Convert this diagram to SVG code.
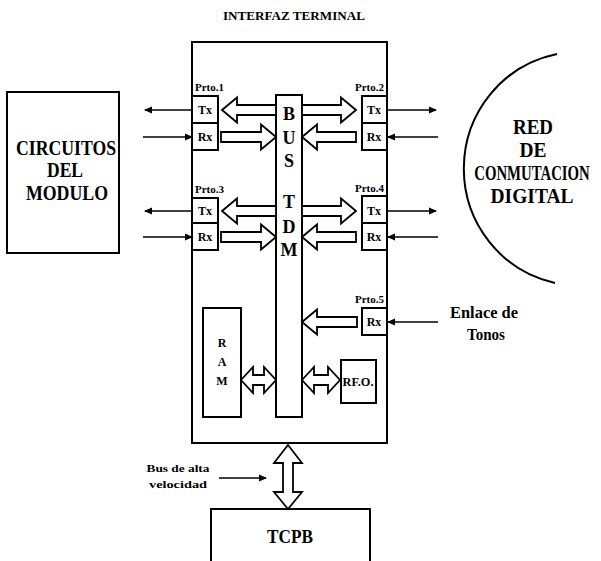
<svg xmlns="http://www.w3.org/2000/svg" width="601" height="561" viewBox="0 0 601 561">
<style>
.box{fill:#fff;stroke:#000;stroke-width:2}
.ha{fill:#fff;stroke:#000;stroke-width:1.8;stroke-linejoin:miter}
.ln{fill:none;stroke:#000;stroke-width:1.6}
.arc{fill:none;stroke:#000;stroke-width:2}
text{font-family:"Liberation Serif","Times New Roman",serif;font-weight:bold;fill:#000}
.big{font-size:20px;text-anchor:middle}
.mid{font-size:17px;text-anchor:middle}
.prt{font-size:11px}
.txr{font-size:12px;text-anchor:middle}
.bus{font-size:18px;text-anchor:middle}
.sm{font-size:12px;text-anchor:middle}
</style>
<defs>
<marker id="ah" viewBox="0 0 8 8" refX="7" refY="4" markerWidth="8" markerHeight="8" markerUnits="userSpaceOnUse" orient="auto">
<path d="M0,0.5 L8,4 L0,7.5 Z" fill="#000"/>
</marker>
</defs>

<text x="294" y="20" style="font-size:12px;text-anchor:middle" textLength="142" lengthAdjust="spacingAndGlyphs">INTERFAZ TERMINAL</text>

<g id="circuitos">
<rect class="box" x="7" y="92" width="112" height="161"/>
<text class="big" x="66" y="155" textLength="100" lengthAdjust="spacingAndGlyphs">CIRCUITOS</text>
<text class="big" x="65" y="177" textLength="36" lengthAdjust="spacingAndGlyphs">DEL</text>
<text class="big" x="67" y="200" textLength="82" lengthAdjust="spacingAndGlyphs">MODULO</text>
</g>

<g id="interfaz">
<rect class="box" x="192" y="42" width="195" height="401"/>
</g>

<g id="bus-tdm">
<rect class="box" x="276" y="95" width="26" height="322"/>
<text class="bus" x="289" y="120">B</text>
<text class="bus" x="289" y="144">U</text>
<text class="bus" x="289" y="167">S</text>
<text class="bus" x="289" y="208">T</text>
<text class="bus" x="289" y="233">D</text>
<text class="bus" x="289" y="256">M</text>
</g>

<g id="prto1">
<text class="prt" x="195" y="91">Prto.1</text>
<rect class="box" x="192" y="96" width="26" height="27"/>
<rect class="box" x="192" y="123" width="26" height="27"/>
<text class="txr" x="205" y="114">Tx</text>
<text class="txr" x="205" y="141">Rx</text>
</g>

<g id="prto3">
<text class="prt" x="195" y="193">Prto.3</text>
<rect class="box" x="192" y="198" width="26" height="25"/>
<rect class="box" x="192" y="223" width="26" height="27"/>
<text class="txr" x="205" y="215">Tx</text>
<text class="txr" x="205" y="241">Rx</text>
</g>

<g id="prto2">
<text class="prt" x="355" y="91">Prto.2</text>
<rect class="box" x="362" y="96" width="25" height="27"/>
<rect class="box" x="362" y="123" width="25" height="27"/>
<text class="txr" x="374" y="114">Tx</text>
<text class="txr" x="374" y="141">Rx</text>
</g>

<g id="prto4">
<text class="prt" x="355" y="192">Prto.4</text>
<rect class="box" x="362" y="196" width="25" height="27"/>
<rect class="box" x="362" y="223" width="25" height="27"/>
<text class="txr" x="374" y="215">Tx</text>
<text class="txr" x="374" y="241">Rx</text>
</g>

<g id="prto5">
<text class="prt" x="355" y="303">Prto.5</text>
<rect class="box" x="362" y="308" width="25" height="27"/>
<text class="txr" x="374" y="326">Rx</text>
</g>

<g id="ram">
<rect class="box" x="203" y="308" width="38" height="109"/>
<text class="sm" x="222" y="347">R</text>
<text class="sm" x="222" y="366">A</text>
<text class="sm" x="222" y="385">M</text>
</g>

<g id="rfo">
<rect class="box" x="341" y="360" width="35" height="43"/>
<text class="sm" x="358" y="386" textLength="31" lengthAdjust="spacingAndGlyphs">RF.O.</text>
</g>

<g id="red">
<path class="arc" d="M557,54 A116,117 0 0 0 555,283"/>
<text class="big" x="533" y="134" textLength="40" lengthAdjust="spacingAndGlyphs">RED</text>
<text class="big" x="533" y="157" textLength="27" lengthAdjust="spacingAndGlyphs">DE</text>
<text class="big" transform="translate(532,180) scale(0.74,1)" x="0" y="0">CONMUTACION</text>
<text class="big" x="532" y="203" textLength="83" lengthAdjust="spacingAndGlyphs">DIGITAL</text>
</g>

<g id="enlace">
<text class="mid" x="484" y="318" textLength="68" lengthAdjust="spacingAndGlyphs">Enlace de</text>
<text class="mid" x="486" y="340" textLength="38" lengthAdjust="spacingAndGlyphs">Tonos</text>
</g>

<g id="bus-alta">
<text class="sm" x="178" y="472" style="font-size:11px" textLength="63" lengthAdjust="spacingAndGlyphs">Bus de alta</text>
<text class="sm" x="178" y="488" style="font-size:11px" textLength="58" lengthAdjust="spacingAndGlyphs">velocidad</text>
</g>

<g id="tcpb">
<rect class="box" x="211" y="509" width="159" height="70"/>
<text class="big" x="290" y="543" style="font-size:19px" textLength="46" lengthAdjust="spacingAndGlyphs">TCPB</text>
</g>

<g id="connectors">
<line class="ln" x1="192" y1="110" x2="145" y2="110" marker-end="url(#ah)"/>
<line class="ln" x1="143" y1="137" x2="192" y2="137" marker-end="url(#ah)"/>
<line class="ln" x1="192" y1="211" x2="145" y2="211" marker-end="url(#ah)"/>
<line class="ln" x1="143" y1="237" x2="192" y2="237" marker-end="url(#ah)"/>
<line class="ln" x1="387" y1="110" x2="436" y2="110" marker-end="url(#ah)"/>
<line class="ln" x1="438" y1="137" x2="388" y2="137" marker-end="url(#ah)"/>
<line class="ln" x1="387" y1="211" x2="436" y2="211" marker-end="url(#ah)"/>
<line class="ln" x1="438" y1="237" x2="388" y2="237" marker-end="url(#ah)"/>
<line class="ln" x1="438" y1="322" x2="388" y2="322" marker-end="url(#ah)"/>
<line class="ln" x1="219" y1="478" x2="266" y2="478" marker-end="url(#ah)"/>
<polygon class="ha" points="222,110 237,97.5 237,105 276,105 276,115 237,115 237,122.5"/>
<polygon class="ha" points="276,137 261,124.5 261,132 221,132 221,142 261,142 261,149.5"/>
<polygon class="ha" points="222,211 237,198.5 237,206 276,206 276,216 237,216 237,223.5"/>
<polygon class="ha" points="276,237 261,224.5 261,232 221,232 221,242 261,242 261,249.5"/>
<polygon class="ha" points="356,110 341,97.5 341,105 302,105 302,115 341,115 341,122.5"/>
<polygon class="ha" points="302,137 317,124.5 317,132 356,132 356,142 317,142 317,149.5"/>
<polygon class="ha" points="356,211 341,198.5 341,206 302,206 302,216 341,216 341,223.5"/>
<polygon class="ha" points="302,237 317,224.5 317,232 356,232 356,242 317,242 317,249.5"/>
<polygon class="ha" points="302,322 317,309.5 317,317 357,317 357,327 317,327 317,334.5"/>
<polygon class="ha" points="241,380 253,367 253,375 264,375 264,367 276,380 264,393 264,385 253,385 253,393"/>
<polygon class="ha" points="302,380 314,367 314,375 328,375 328,367 340,380 328,393 328,385 314,385 314,393"/>
<polygon class="ha" points="288,445 302,463 293,463 293,492 302,492 288,509 274,492 283,492 283,463 274,463"/>
</g>
</svg>
